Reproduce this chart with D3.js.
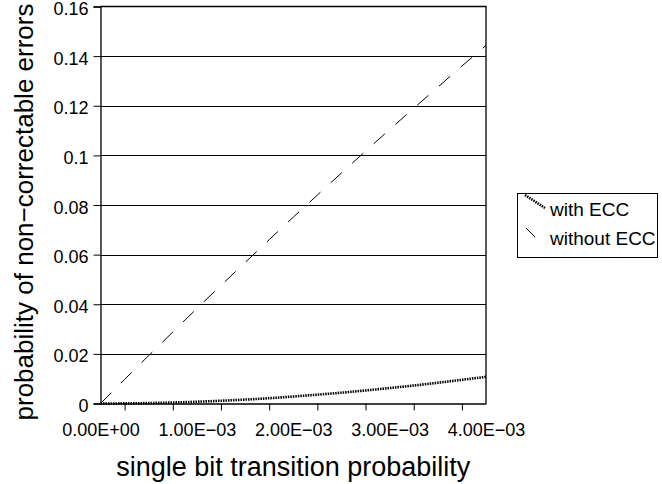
<!DOCTYPE html>
<html><head><meta charset="utf-8">
<script src="https://cdn.jsdelivr.net/npm/d3@7/dist/d3.min.js"></script>
<style>body{margin:0;background:#fff}svg{display:block}text{font-family:"Liberation Sans",Arial,sans-serif;fill:#000}</style>
</head><body><svg id="c" width="662" height="484"></svg>
<script>
const xValues = [0,0.00025,0.0005,0.00075,0.001,0.00125,0.0015,0.00175,0.002,0.00225,0.0025,0.00275,0.003,0.00325,0.0035,0.00375,0.004];
const withECC = [0,0.00005,0.00018,0.00041,0.00072,0.00111,0.00158,0.00213,0.00282,0.00356,0.00436,0.00525,0.00621,0.00725,0.00836,0.00955,0.01074];
const withoutECC = [0,0.0097,0.0193,0.0288,0.0383,0.0476,0.0568,0.0660,0.0751,0.0840,0.0929,0.1017,0.1104,0.1190,0.1275,0.1360,0.1443];
const yTicks = [0,0.02,0.04,0.06,0.08,0.1,0.12,0.14,0.16];
const yTickLabels = ["0","0.02","0.04","0.06","0.08","0.1","0.12","0.14","0.16"];
const xLabelTicks = [0,0.001,0.002,0.003,0.004];
const xTickLabels = ["0.00E+00","1.00E\u221203","2.00E\u221203","3.00E\u221203","4.00E\u221203"];
const xMinorTicks = [0.00025,0.00075,0.00125,0.00175,0.00225,0.00275,0.00325,0.00375];
const seriesNames = ["with ECC","without ECC"];

const svg = d3.select("#c");
const L=100.5, R=486, T=6.5, B=403.5;
const x = d3.scaleLinear().domain([0,0.004]).range([L,R]);
const y = d3.scaleLinear().domain([0,0.16]).range([B,T]);

// gridlines
svg.append("g").selectAll("line").data(yTicks.slice(1,-1)).join("line")
  .attr("x1",L).attr("x2",R).attr("y1",d=>Math.round(y(d))+0.5).attr("y2",d=>Math.round(y(d))+0.5)
  .attr("stroke","#000").attr("stroke-width",1);
// box top & right
svg.append("path").attr("d",`M${L},${T}H${R}V${B}`).attr("fill","none").attr("stroke","#000").attr("stroke-width",1.3);

// y axis
const ya = svg.append("g").attr("transform",`translate(${L},0)`)
  .call(d3.axisLeft(y).tickValues(yTicks).tickSize(7).tickPadding(5).tickFormat((d,i)=>yTickLabels[i]));
ya.select(".domain").attr("stroke","#000").attr("stroke-width",1.3);
ya.selectAll("text").style("font-size","18px").attr("dy","0.45em");

// x axis (labels, no ticks)
const xa = svg.append("g").attr("transform",`translate(0,${B})`)
  .call(d3.axisBottom(x).tickValues(xLabelTicks).tickSize(0).tickPadding(20).tickFormat((d,i)=>xTickLabels[i]));
xa.select(".domain").attr("stroke","#000").attr("stroke-width",1.3);
xa.selectAll("text").style("font-size","18px");
// minor tick marks
const xm = svg.append("g").attr("transform",`translate(0,${B})`)
  .call(d3.axisBottom(x).tickValues(xMinorTicks).tickSize(7).tickFormat(""));
xm.select(".domain").remove();
xm.selectAll("line").attr("stroke","#000");

// lines
const pts = (vals)=>xValues.map((v,i)=>[v,vals[i]]);
const line = d3.line().x(d=>x(d[0])).y(d=>y(d[1])).curve(d3.curveMonotoneX);
svg.append("path").attr("d",line(pts(withoutECC))).attr("fill","none").attr("stroke","#000")
  .attr("stroke-width",1).attr("stroke-dasharray","15,14");
svg.append("path").attr("d",line(pts(withECC))).attr("fill","none").attr("stroke","#000")
  .attr("stroke-width",2.6).attr("stroke-dasharray","1.5,1");

// axis titles
svg.append("text").attr("x",(L+R)/2).attr("y",476).attr("text-anchor","middle")
  .style("font-size","27px").text("single bit transition probability");
svg.append("text").attr("transform",`translate(33,212) rotate(-90)`).attr("text-anchor","middle")
  .style("font-size","26px").text("probability of non\u2212correctable errors");

// legend
const lg = svg.append("g");
lg.append("rect").attr("x",517.5).attr("y",193.5).attr("width",140).attr("height",64)
  .attr("fill","#fff").attr("stroke","#000").attr("stroke-width",1);
lg.append("line").attr("x1",525).attr("y1",195).attr("x2",545).attr("y2",208)
  .attr("stroke","#000").attr("stroke-width",2.6).attr("stroke-dasharray","1.5,1");
lg.append("line").attr("x1",526).attr("y1",228).attr("x2",535).attr("y2",237)
  .attr("stroke","#000").attr("stroke-width",1);
lg.selectAll("text").data(seriesNames).join("text")
  .attr("x",550).attr("y",(d,i)=>216+i*29).style("font-size","19px").text(d=>d);
</script></body></html>
